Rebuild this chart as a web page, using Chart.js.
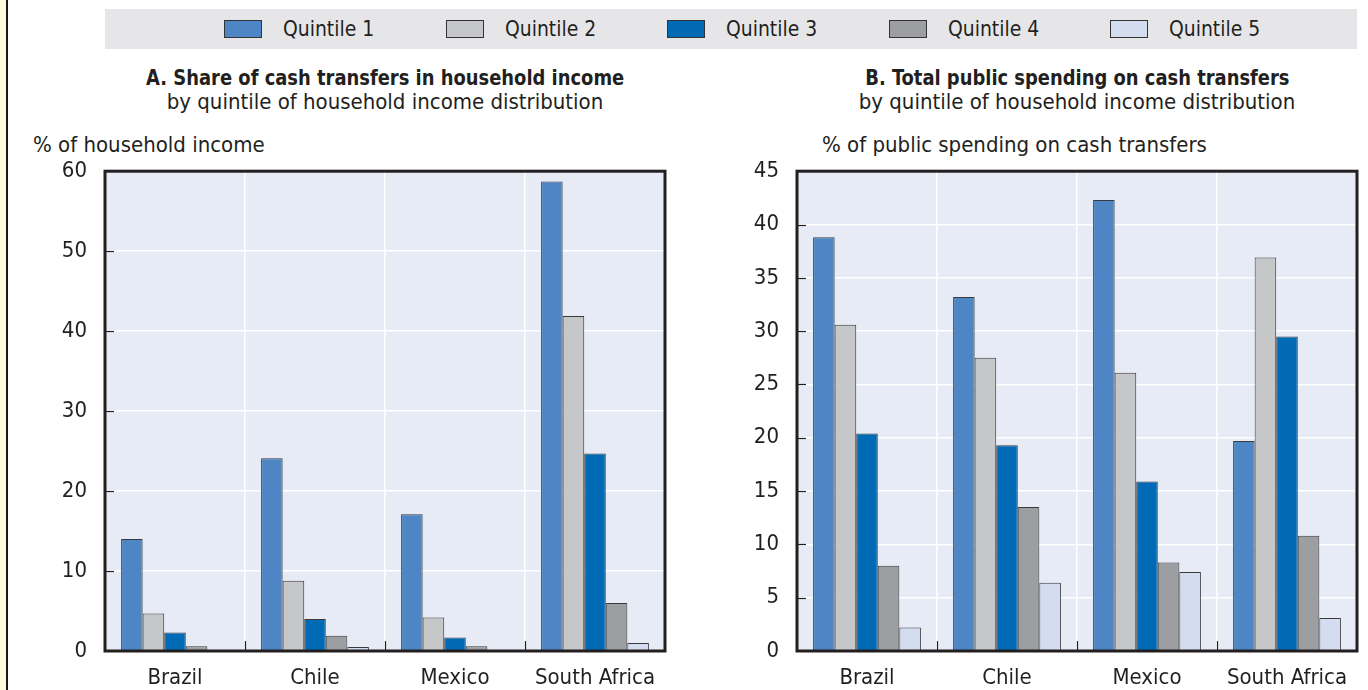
<!DOCTYPE html>
<html>
<head>
<meta charset="utf-8">
<script src="https://cdn.jsdelivr.net/npm/chart.js@4/dist/chart.umd.min.js"></script>
<style>
  html, body { margin: 0; padding: 0; background: #fff; }
  body { width: 1368px; height: 690px; position: relative; overflow: hidden;
         font-family: "DejaVu Sans Condensed", "Liberation Sans Narrow", sans-serif; color: #231f20; }
  .strip { position: absolute; left: 0; top: 0; width: 6px; height: 690px; background: #ffffe0; border-right: 2px solid #1a1a1a; }
  .legend { position: absolute; left: 105px; top: 9px; width: 1252px; height: 40px; background: #e6e6e8; }
  .legend .sw { position: absolute; top: 11px; width: 36px; height: 16px; border: 1px solid #333; }
  .legend .lb { position: absolute; top: 7px; font-size: 22px; line-height: 26px; white-space: nowrap;
                transform: scaleX(0.95); transform-origin: left center; }
  .ptitle { position: absolute; text-align: center; font-size: 22px; line-height: 24px; white-space: nowrap; }
  .ptitle b { display: inline-block; font-weight: bold; transform: scaleX(0.905); }
  .ycap { position: absolute; font-size: 22px; line-height: 24px; white-space: nowrap; }
  canvas { position: absolute; }
</style>
</head>
<body>
<div class="strip"></div>
<div class="legend" id="legend"></div>

<div class="ptitle" style="left:105px; width:560px; top:66px;"><b>A. Share of cash transfers in household income</b><br>by quintile of household income distribution</div>
<div class="ptitle" style="left:797px; width:560px; top:66px;"><b>B. Total public spending on cash transfers</b><br>by quintile of household income distribution</div>
<div class="ycap" style="left:33px; top:133px;">% of household income</div>
<div class="ycap" style="left:822px; top:133px;">% of public spending on cash transfers</div>

<div id="wrapA" style="position:absolute; left:0; top:140px; width:680px; height:550px;"><canvas id="chartA"></canvas></div>
<div id="wrapB" style="position:absolute; left:690px; top:140px; width:678px; height:550px;"><canvas id="chartB"></canvas></div>

<script>
// Countries on the horizontal axis
const countries = ["Brazil", "Chile", "Mexico", "South Africa"];
const quintileNames = ["Quintile 1", "Quintile 2", "Quintile 3", "Quintile 4", "Quintile 5"];
const quintileColors = ["#4e86c5", "#c6c7c9", "#006ab5", "#9d9ea1", "#d3ddef"];

// Panel A: share of cash transfers in household income (%), per quintile
const shareQ1 = [14.0, 24.1, 17.1, 58.7];
const shareQ2 = [4.7, 8.8, 4.2, 41.9];
const shareQ3 = [2.3, 4.0, 1.7, 24.7];
const shareQ4 = [0.6, 1.9, 0.6, 6.0];
const shareQ5 = [0.1, 0.5, 0.1, 1.0];

// Panel B: share of total public spending on cash transfers (%), per quintile
const spendQ1 = [38.8, 33.2, 42.3, 19.7];
const spendQ2 = [30.6, 27.5, 26.1, 36.9];
const spendQ3 = [20.4, 19.3, 15.9, 29.5];
const spendQ4 = [8.0, 13.5, 8.3, 10.8];
const spendQ5 = [2.2, 6.4, 7.4, 3.1];

// Legend strip
const legendEl = document.getElementById("legend");
quintileNames.forEach((name, i) => {
  const sw = document.createElement("div");
  sw.className = "sw";
  sw.style.left = (119 + i * 221.5) + "px";
  sw.style.background = quintileColors[i];
  legendEl.appendChild(sw);
  const lb = document.createElement("div");
  lb.className = "lb";
  lb.style.left = (178 + i * 221.5) + "px";
  lb.textContent = name;
  legendEl.appendChild(lb);
});

const FONT = "'DejaVu Sans Condensed', 'Liberation Sans Narrow', sans-serif";
const INK = "#231f20";

// Plot background, inward tick marks and the heavy frame around the plot area
const framePlugin = {
  id: "frame",
  beforeDraw(chart) {
    const a = chart.chartArea, ctx = chart.ctx;
    ctx.save();
    ctx.fillStyle = "#e7ebf6";
    ctx.fillRect(a.left, a.top, a.right - a.left, a.bottom - a.top);
    ctx.restore();
  },
  afterDatasetsDraw(chart) {
    const a = chart.chartArea, ctx = chart.ctx;
    const ys = chart.scales.y, xs = chart.scales.x;
    ctx.save();
    ctx.strokeStyle = INK;
    ctx.lineWidth = 1.2;
    ys.ticks.forEach(t => {
      if (t.value <= ys.min || t.value >= ys.max) return;
      const y = Math.round(ys.getPixelForValue(t.value)) + 0.5;
      ctx.beginPath(); ctx.moveTo(a.left, y); ctx.lineTo(a.left + 9, y); ctx.stroke();
    });
    for (let i = 0; i < countries.length - 1; i++) {
      const x = Math.round((xs.getPixelForValue(i) + xs.getPixelForValue(i + 1)) / 2) + 0.5;
      ctx.beginPath(); ctx.moveTo(x, a.bottom); ctx.lineTo(x, a.bottom - 10); ctx.stroke();
    }
    ctx.lineWidth = 3;
    ctx.strokeRect(a.left, a.top, a.right - a.left, a.bottom - a.top);
    ctx.restore();
  }
};

function makeDatasets(series) {
  return series.map((vals, i) => ({
    label: quintileNames[i],
    data: vals,
    backgroundColor: quintileColors[i],
    borderColor: "#3a3a3c",
    borderWidth: 1,
    borderSkipped: "bottom",
    categoryPercentage: 0.77,
    barPercentage: 1.0
  }));
}

function makeChart(id, series, yMax, yStep, axisWidth, padRight) {
  return new Chart(document.getElementById(id), {
    type: "bar",
    data: { labels: countries, datasets: makeDatasets(series) },
    plugins: [framePlugin],
    options: {
      responsive: true,
      maintainAspectRatio: false,
      animation: false,
      layout: { padding: { top: 10, right: padRight, left: 0, bottom: 0 } },
      plugins: { legend: { display: false }, tooltip: { enabled: false }, title: { display: false } },
      scales: {
        x: {
          grid: { color: "#ffffff", lineWidth: 1.5, drawTicks: false, offset: true },
          border: { display: false },
          ticks: { color: INK, font: { family: FONT, size: 22 }, padding: 14, maxRotation: 0 },
          afterFit(s) { s.height = 39; }
        },
        y: {
          min: 0, max: yMax,
          grid: { color: "#ffffff", lineWidth: 1.5, drawTicks: false },
          border: { display: false },
          ticks: { stepSize: yStep, color: INK, font: { family: FONT, size: 22 }, padding: 18 },
          afterFit(s) { s.width = axisWidth; }
        }
      }
    }
  });
}

makeChart("chartA", [shareQ1, shareQ2, shareQ3, shareQ4, shareQ5], 60, 10, 105, 15);
makeChart("chartB", [spendQ1, spendQ2, spendQ3, spendQ4, spendQ5], 45, 5, 107, 11);
</script>
</body>
</html>
